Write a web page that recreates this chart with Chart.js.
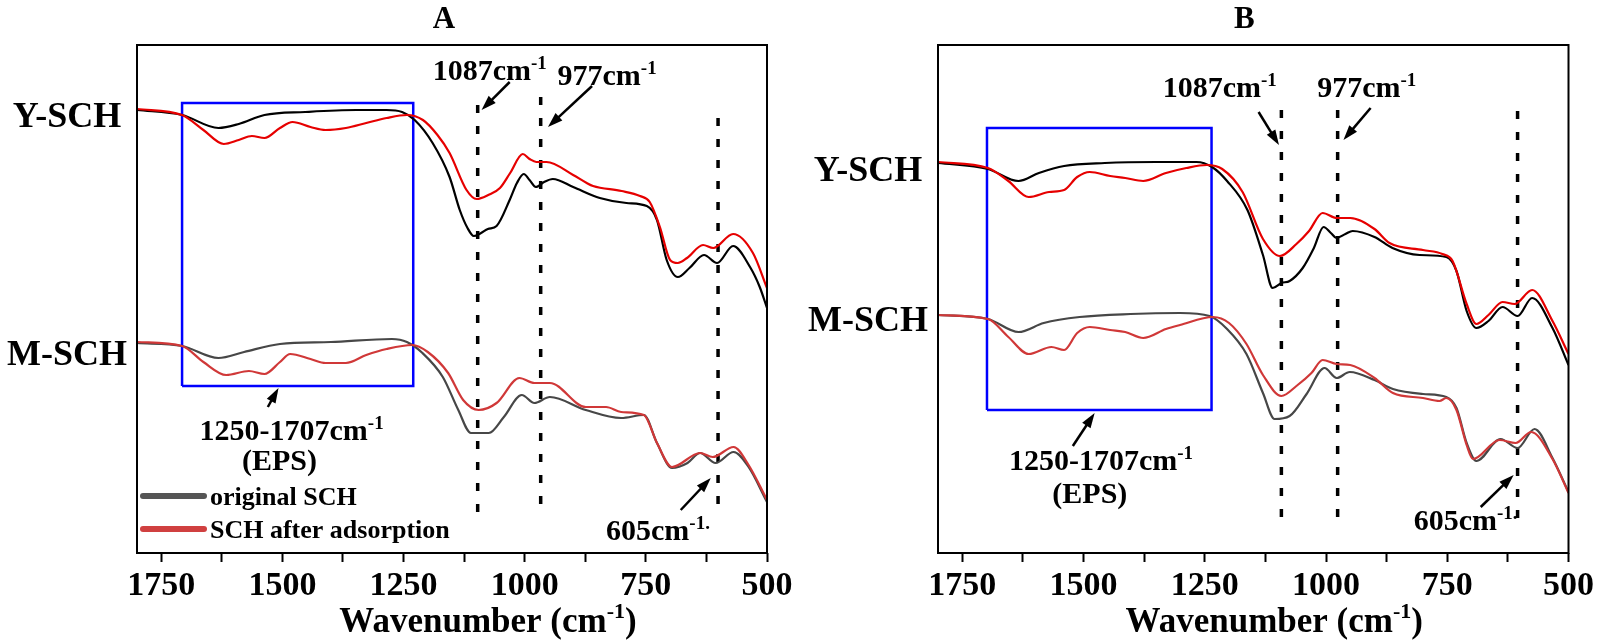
<!DOCTYPE html>
<html>
<head>
<meta charset="utf-8">
<script src="https://cdn.jsdelivr.net/npm/chart.js@4.4.1/dist/chart.umd.min.js"></script>
<style>
html, body { margin: 0; padding: 0; background: #fff; }
#wrap { position: relative; width: 1598px; height: 643px; }
.panel { position: absolute; top: 0; height: 643px; }
#pA { left: 0; width: 800px; }
#pB { left: 800px; width: 798px; }
</style>
</head>
<body>
<div id="wrap">
  <div class="panel" id="pA"><canvas id="chartA"></canvas></div>
  <div class="panel" id="pB"><canvas id="chartB"></canvas></div>
</div>
<script>
// x axis ticks (wavenumber, cm-1)
const tickMajor = [1750, 1500, 1250, 1000, 750, 500];
const tickMinor = [1625, 1375, 1125, 875, 625];
const legendLabels = ['original SCH', 'SCH after adsorption'];

// panel A, Y-SCH
const aYOrigWn = [1800,1707,1632,1590,1537,1453,1348,1285,1253,1227,1190,1155,1134,1118,1105,1090,1076,1058,1031,1016,1002,990,977,960,942,900,845,790,748,727,707,684,660,630,603,570,535,515,500];
const aYOrig   = [443,438,425,429,438,441,443,443,441,433,410,376,343,325,317,320,324,327,353,370,379,373,366,371,374,366,355,350,347,333,293,276,285,298,290,307,286,266,245];
const aYAdsWn  = [1800,1707,1663,1621,1590,1563,1537,1505,1479,1442,1411,1369,1327,1285,1243,1210,1180,1155,1120,1099,1075,1051,1030,1004,990,976,955,900,872,859,800,762,742,721,700,684,665,632,611,570,529,500];
const aYAds    = [444,438,423,409,413,417,415,425,431,426,423,425,430,435,438,433,418,400,363,354,358,365,380,399,394,391,391,378,370,367,362,357,351,326,293,290,295,308,305,319,300,265];
// panel A, M-SCH
const aMOrigWn = [1800,1707,1632,1579,1505,1400,1274,1243,1211,1169,1137,1111,1074,1043,1006,980,948,874,801,754,727,696,664,638,606,569,538,500];
const aMOrig   = [210,207,195,201,209,211,214,211,200,176,143,120,120,136,158,150,156,143,135,138,110,85,90,100,90,101,86,51];
const aMAdsWn  = [1800,1707,1663,1616,1569,1537,1505,1484,1442,1411,1369,1327,1285,1232,1200,1158,1127,1095,1058,1011,980,948,874,832,801,754,727,696,638,612,569,538,500];
const aMAds    = [211,207,191,178,182,179,191,199,194,190,190,198,204,208,201,180,153,143,150,175,170,170,146,146,141,138,110,86,100,96,106,88,53];

// panel B, Y-SCH
const bYOrigWn = [1800,1697,1634,1592,1540,1456,1351,1267,1235,1204,1162,1130,1110,1092,1075,1048,1025,1005,990,978,960,945,900,863,807,752,731,710,690,665,636,605,575,533,500];
const bYOrig   = [390,384,372,380,387,390,391,391,386,372,343,298,265,270,272,285,305,326,320,315,319,322,316,305,298,296,282,242,225,232,246,237,255,225,188];
const bYAdsWn  = [1800,1697,1655,1613,1571,1540,1513,1487,1445,1414,1377,1330,1288,1246,1214,1172,1130,1095,1061,1035,1007,978,950,900,869,800,760,739,710,690,665,636,611,575,533,500];
const bYAds    = [391,385,372,356,361,363,376,381,377,375,372,380,385,388,384,361,314,297,309,322,340,335,335,324,310,303,299,292,249,229,238,251,249,263,232,199];
// panel B, M-SCH
const bMOrigWn = [1800,1697,1634,1582,1508,1403,1301,1240,1204,1164,1130,1106,1075,1040,1003,978,951,900,862,800,752,731,710,690,640,605,570,533,500];
const bMOrig   = [238,234,221,230,236,239,240,237,224,199,160,134,137,159,185,175,181,173,164,159,156,145,110,92,114,105,124,95,61];
const bMAdsWn  = [1800,1697,1655,1613,1566,1540,1513,1487,1445,1414,1377,1330,1301,1233,1200,1164,1130,1092,1061,1030,1007,978,950,900,862,800,766,752,731,710,697,642,609,577,533,500];
const bMAds    = [238,234,216,199,206,203,220,226,223,221,215,224,228,236,230,209,178,157,167,180,193,189,188,175,160,155,152,155,143,108,94,113,110,121,94,60];

// marked bands (dotted lines) and EPS region box
const aMarkWn = [1097, 967, 601];
const aMarkTop = [448, 456, 435];
const aMarkBot = [40, 48, 36];
const bMarkWn = [1092, 976, 605];
const bMarkTop = [443, 443, 442];
const bMarkBot = [33, 33, 33];
const aBoxWn = [1707, 1230];
const aBoxV = [167, 450];
const bBoxWn = [1699, 1236];
const bBoxV = [143, 425];

const FONT = '"Liberation Serif", "Times New Roman", serif';

function pts(wn, val) {
    return wn.map((w, i) => ({x: w, y: val[i]}));
}

function spectrum(label, wn, val, color, order) {
    return {label: label, data: pts(wn, val), borderColor: color, borderWidth: 2.2,
        pointRadius: 0, showLine: true, cubicInterpolationMode: 'monotone', order: order};
}

function marks(wn, top, bot) {
    return wn.map((w, i) => ({label: 'band', data: [{x: w, y: top[i]}, {x: w, y: bot[i]}],
        borderColor: '#000', borderWidth: 3.5, borderDash: [8, 13], pointRadius: 0, showLine: true, order: 5}));
}

function box(wn, v) {
    return {label: 'EPS', data: [{x: wn[0], y: v[0]}, {x: wn[0], y: v[1]}, {x: wn[1], y: v[1]}, {x: wn[1], y: v[0]}, {x: wn[0], y: v[0]}],
        borderColor: '#0000ff', borderWidth: 2.5, pointRadius: 0, showLine: true, order: 4};
}

// text with a superscript part, centred on (cx, cy)
function supText(ctx, parts, cx, cy, size) {
    const big = 'bold ' + size + 'px ' + FONT;
    const small = 'bold ' + Math.round(size * 0.62) + 'px ' + FONT;
    ctx.font = big;
    const w0 = ctx.measureText(parts[0]).width;
    const w2 = ctx.measureText(parts[2]).width;
    ctx.font = small;
    const w1 = ctx.measureText(parts[1]).width;
    const x0 = cx - (w0 + w1 + w2) / 2;
    const base = cy + size * 0.33;
    ctx.textAlign = 'left';
    ctx.textBaseline = 'alphabetic';
    ctx.font = big;
    ctx.fillText(parts[0], x0, base);
    ctx.fillText(parts[2], x0 + w0 + w1, base);
    ctx.font = small;
    ctx.fillText(parts[1], x0 + w0, base - size * 0.38);
}

function arrow(ctx, x1, y1, x2, y2) {
    const a = Math.atan2(y2 - y1, x2 - x1), h = 15, w = 5;
    ctx.beginPath();
    ctx.moveTo(x1, y1);
    ctx.lineTo(x2 - h * 0.8 * Math.cos(a), y2 - h * 0.8 * Math.sin(a));
    ctx.stroke();
    ctx.beginPath();
    ctx.moveTo(x2, y2);
    ctx.lineTo(x2 - h * Math.cos(a) + w * Math.sin(a), y2 - h * Math.sin(a) - w * Math.cos(a));
    ctx.lineTo(x2 - h * Math.cos(a) - w * Math.sin(a), y2 - h * Math.sin(a) + w * Math.cos(a));
    ctx.closePath();
    ctx.fill();
}

const annot = {
    id: 'annot',
    afterDraw(chart, args, o) {
        const {ctx, chartArea: ca, scales: {x, y}} = chart;
        const mid = (ca.left + ca.right) / 2;
        ctx.save();
        ctx.strokeStyle = '#000';
        ctx.fillStyle = '#000';
        ctx.lineWidth = 2;
        ctx.strokeRect(ca.left, ca.top, ca.right - ca.left, ca.bottom - ca.top);

        ctx.textAlign = 'center';
        ctx.textBaseline = 'alphabetic';
        ctx.font = 'bold 31px ' + FONT;
        ctx.fillText(o.title, mid + o.titleShift, 28);

        ctx.font = 'bold 36px ' + FONT;
        o.samples.forEach(s => ctx.fillText(s.text, ca.left - 70, y.getPixelForValue(s.v) + 12));

        o.notes.forEach(n => supText(ctx, n.parts, x.getPixelForValue(n.wn), y.getPixelForValue(n.v), 30));

        ctx.lineWidth = 2.5;
        o.arrows.forEach(a => arrow(ctx, x.getPixelForValue(a[0]), y.getPixelForValue(a[1]),
            x.getPixelForValue(a[2]), y.getPixelForValue(a[3])));

        supText(ctx, ['Wavenumber (cm', '-1', ')'], mid + o.axisShift, 620, 35);

        if (o.legend) {
            const cols = ['#555555', '#d04040'];
            const rows = [ca.bottom - 57, ca.bottom - 24];
            ctx.lineCap = 'round';
            ctx.lineWidth = 6;
            ctx.font = 'bold 26px ' + FONT;
            ctx.textAlign = 'left';
            legendLabels.forEach((t, i) => {
                ctx.strokeStyle = cols[i];
                ctx.beginPath();
                ctx.moveTo(ca.left + 6, rows[i]);
                ctx.lineTo(ca.left + 67, rows[i]);
                ctx.stroke();
                ctx.fillText(t, ca.left + 73, rows[i] + 9);
            });
        }
        ctx.restore();
    }
};

function makeChart(id, datasets, ann, padL, padR) {
    return new Chart(document.getElementById(id), {
        type: 'scatter',
        data: {datasets: datasets},
        options: {
            responsive: true,
            maintainAspectRatio: false,
            animation: false,
            layout: {padding: {left: padL, right: padR, top: 45, bottom: 0}},
            plugins: {legend: {display: false}, tooltip: {enabled: false}, annot: ann},
            scales: {
                x: {
                    type: 'linear', reverse: true, min: 500, max: 1800,
                    afterBuildTicks: s => {
                        s.ticks = tickMajor.concat(tickMinor).sort((a, b) => b - a).map(v => ({value: v}));
                    },
                    afterFit: s => { s.height = 90; },
                    grid: {drawOnChartArea: false, drawTicks: true, tickLength: 9, tickWidth: 2, color: '#000'},
                    border: {display: false},
                    ticks: {
                        autoSkip: false, maxRotation: 0, minRotation: 0, padding: 4, color: '#000',
                        font: {family: FONT, size: 34, weight: 'bold'},
                        callback: v => tickMajor.includes(v) ? String(v) : ''
                    }
                },
                y: {display: false, min: 0, max: 508}
            }
        },
        plugins: [annot]
    });
}

const dsA = [
    spectrum('Y-SCH after adsorption', aYAdsWn, aYAds, '#e60000', 1),
    spectrum('Y-SCH original', aYOrigWn, aYOrig, '#000000', 2),
    spectrum('M-SCH after adsorption', aMAdsWn, aMAds, '#d03838', 1),
    spectrum('M-SCH original', aMOrigWn, aMOrig, '#474747', 2),
    box(aBoxWn, aBoxV)
].concat(marks(aMarkWn, aMarkTop, aMarkBot));

const dsB = [
    spectrum('Y-SCH after adsorption', bYAdsWn, bYAds, '#e60000', 1),
    spectrum('Y-SCH original', bYOrigWn, bYOrig, '#000000', 2),
    spectrum('M-SCH after adsorption', bMAdsWn, bMAds, '#d03838', 1),
    spectrum('M-SCH original', bMOrigWn, bMOrig, '#474747', 2),
    box(bBoxWn, bBoxV)
].concat(marks(bMarkWn, bMarkTop, bMarkBot));

makeChart('chartA', dsA, {
    title: 'A', titleShift: -8, axisShift: 36, legend: true,
    samples: [{text: 'Y-SCH', v: 438}, {text: 'M-SCH', v: 200}],
    notes: [
        {parts: ['1087cm', '-1', ''], wn: 1072, v: 483},
        {parts: ['977cm', '-1', ''], wn: 830, v: 478},
        {parts: ['1250-1707cm', '-1', ''], wn: 1481, v: 123},
        {parts: ['(EPS)', '', ''], wn: 1506, v: 93},
        {parts: ['605cm', '-1.', ''], wn: 725, v: 23}
    ],
    arrows: [[1031, 471, 1089, 443], [861, 467, 952, 426], [1530, 146, 1508, 165], [678, 43, 616, 75]]
}, 137, 33);

makeChart('chartB', dsB, {
    title: 'B', titleShift: -9, axisShift: 21, legend: false,
    samples: [{text: 'Y-SCH', v: 384}, {text: 'M-SCH', v: 234}],
    notes: [
        {parts: ['1087cm', '-1', ''], wn: 1219, v: 466},
        {parts: ['977cm', '-1', ''], wn: 916, v: 466},
        {parts: ['1250-1707cm', '-1', ''], wn: 1464, v: 93},
        {parts: ['(EPS)', '', ''], wn: 1487, v: 60},
        {parts: ['605cm', '-1.', ''], wn: 712, v: 33}
    ],
    arrows: [[1139, 441, 1097, 408], [908, 445, 964, 413], [1522, 107, 1477, 140], [681, 46, 613, 78]]
}, 138, 29);
</script>
</body>
</html>
